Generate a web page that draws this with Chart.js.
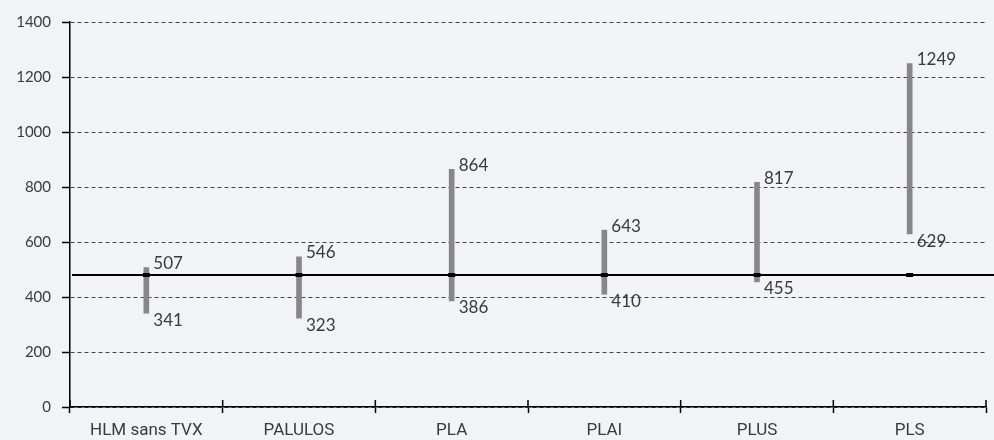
<!DOCTYPE html>
<html lang="fr">
<head>
  <meta charset="UTF-8">
  <title>Fourchettes de loyer</title>
  <style>
    html, body { margin: 0; padding: 0; background: #f2f3f5; }
    #wrap { width: 994px; height: 440px; }
  </style>
  <script src="https://cdn.jsdelivr.net/npm/chart.js"></script>
</head>
<body>
  <div id="wrap"><canvas id="chart"></canvas></div>
  <script>
    const categories = ['HLM sans TVX', 'PALULOS', 'PLA', 'PLAI', 'PLUS', 'PLS'];
    const lows  = [341, 323, 386, 410, 455, 629];
    const highs = [507, 546, 864, 643, 817, 1249];
    const refLevel = 480;
    const markers = categories.map(() => refLevel);
    const yTicks = [0, 200, 400, 600, 800, 1000, 1200, 1400];

    const ink = '#3a3a3a';

    // black reference line across the plot, and x ticks crossing the axis
    const extras = {
      id: 'extras',
      beforeDatasetsDraw(chart) {
        const { ctx, chartArea, scales } = chart;
        const y = scales.y.getPixelForValue(refLevel);
        ctx.save();
        ctx.strokeStyle = '#000';
        ctx.lineWidth = 2;
        ctx.beginPath();
        ctx.moveTo(chartArea.left + 2, y);
        ctx.lineTo(chart.width, y);
        ctx.stroke();
        // tick marks above the x axis
        ctx.lineWidth = 1.5;
        ctx.beginPath();
        for (let i = 0; i <= categories.length; i++) {
          const x = scales.x.getPixelForValue(i - 0.5);
          ctx.moveTo(x, chartArea.bottom - 7);
          ctx.lineTo(x, chartArea.bottom);
        }
        ctx.stroke();
        ctx.restore();
      },
      afterDatasetsDraw(chart) {
        const { ctx } = chart;
        const meta = chart.getDatasetMeta(1);
        ctx.save();
        ctx.fillStyle = ink;
        ctx.font = '17px Lato, "Open Sans", sans-serif';
        ctx.textAlign = 'left';
        ctx.textBaseline = 'middle';
        meta.data.forEach((bar, i) => {
          ctx.fillText(String(highs[i]), bar.x + 7, bar.y - 4);
          ctx.fillText(String(lows[i]), bar.x + 7, bar.base + 7);
        });
        ctx.restore();
      }
    };

    new Chart(document.getElementById('chart'), {
      data: {
        labels: categories,
        datasets: [
          {
            type: 'line',
            data: markers,
            showLine: false,
            pointStyle: 'line',
            pointRadius: 3.5,
            pointBorderWidth: 4,
            pointBorderColor: '#000',
            order: 0
          },
          {
            type: 'bar',
            data: lows.map((v, i) => [v, highs[i]]),
            backgroundColor: '#87878b',
            barThickness: 5,
            borderSkipped: false,
            order: 1
          }
        ]
      },
      options: {
        responsive: true,
        maintainAspectRatio: false,
        animation: false,
        layout: { padding: { top: 22, right: 7, left: 0, bottom: 0 } },
        plugins: { legend: { display: false }, tooltip: { enabled: false } },
        scales: {
          x: {
            offset: true,
            grid: { offset: true, drawOnChartArea: false, tickLength: 6, tickColor: '#000', tickWidth: 1.5 },
            border: { color: '#000', width: 1.5 },
            ticks: { color: ink, font: { family: 'Roboto, "Open Sans", sans-serif', size: 17 }, padding: 8 },
            afterFit(scale) { scale.height = 33; }
          },
          y: {
            min: 0,
            max: 1400,
            afterBuildTicks(scale) { scale.ticks = yTicks.map(v => ({ value: v })); },
            grid: { color: '#444', lineWidth: 1, tickLength: 8, tickColor: '#000', tickWidth: 1.5 },
            border: { color: '#000', width: 1.5, dash: [4, 3] },
            ticks: {
              color: ink,
              font: { family: 'Lato, "Open Sans", sans-serif', size: 15 },
              padding: 11,
              callback: v => String(v)
            },
            afterFit(scale) { scale.width = 70; }
          }
        }
      },
      plugins: [extras]
    });
  </script>
</body>
</html>
